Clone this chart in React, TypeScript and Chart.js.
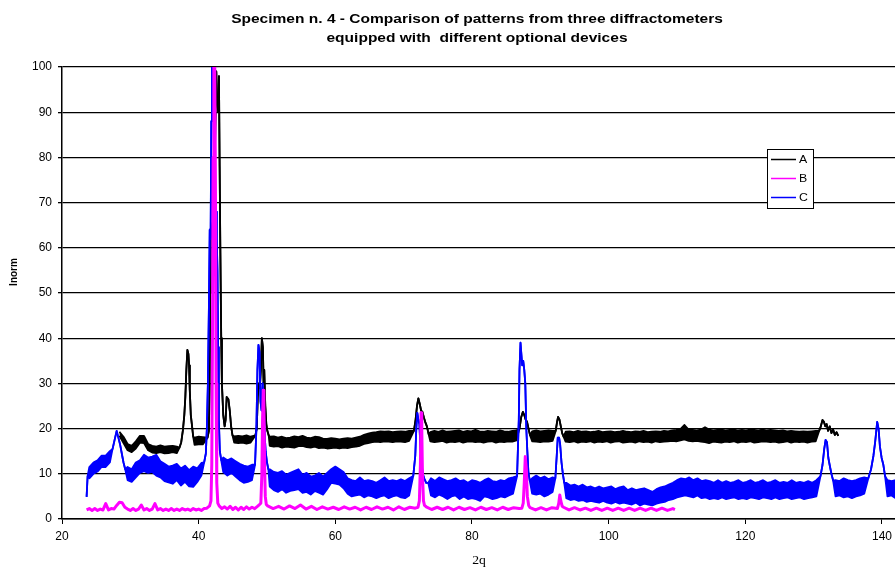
import React, { useEffect, useRef } from 'react';
import { Chart, registerables } from 'chart.js';

Chart.register(...registerables);

type P = [number, number];
type Run = [number, number, number[]]; // [start x, step, y values]

const TITLE_LINES = [
  'Specimen n. 4 - Comparison of patterns from three diffractometers',
  'equipped with  different optional devices',
];
const X_TITLE = '2q';
const Y_TITLE = 'Inorm';
const SERIES_NAMES = ['A', 'B', 'C'];
const SERIES_COLORS = ['#000000', '#FF00FF', '#0000FF'];
const X_TICKS = [20, 40, 60, 80, 100, 120, 140];
const X_MIN = 20;
const X_MAX = 151.71;
const Y_MIN = 0;
const Y_MAX = 100;
const Y_STEP = 10;

// ================= Series A (black) =================
// noisy background: upper (U) and lower (L) edges of the noise band
const A_U_1: Run = [28.4, 0.6, [19.3, 18.2, 16.6, 16.2, 17.2, 18.4, 18.4, 16.6, 16.2, 16, 16.3, 16, 16.1, 16.2, 16]];
const A_L_1: Run = [28.4, 0.6, [18.4, 16.8, 15.2, 14.8, 15.6, 16.9, 16.8, 15.2, 14.7, 14.6, 14.8, 14.5, 14.6, 14.8, 14.6]];
const A_U_2: Run = [39.4, 0.6, [18, 18.2, 18.1]];
const A_L_2: Run = [39.4, 0.6, [16.4, 16.5, 16.5]];
const A_U_3: Run = [45.2, 0.6, [18.3, 18.4, 18.3, 18.5, 18.2]];
const A_L_3: Run = [45.2, 0.6, [16.9, 16.8, 16.9, 16.7, 16.9]];
const A_U_4: Run = [50.4, 0.6, [18.2, 18.3, 18, 18.2, 17.9, 18, 18.3, 18.1, 18.4, 18, 17.9, 18.2, 18.1, 17.8, 17.7, 17.9, 17.8, 17.6, 17.8, 17.9, 17.8, 18, 18.2, 18.6, 18.9, 19.1, 19.2, 19.4, 19.3, 19.4, 19.2, 19.3, 19.4, 19.3, 19.5]];
const A_L_4: Run = [50.4, 0.6, [16.2, 16.0, 16.1, 15.8, 16.0, 15.9, 15.8, 16.1, 16.2, 15.9, 15.8, 16.0, 15.7, 15.8, 15.6, 15.7, 15.8, 15.6, 15.8, 15.7, 15.9, 16.0, 16.2, 16.6, 16.8, 17.0, 17.1, 17.0, 17.2, 17.1, 17.0, 17.2, 17.1, 17.0, 17.3]];
const A_U_5: Run = [73.9, 0.6, [19.2, 19.5, 19.3, 19.6, 19.3, 19.4, 19.5, 19.6, 19.3, 19.5, 19.4, 19.7, 19.4, 19.3, 19.5, 19.4, 19.3, 19.6, 19.4, 19.3, 19.5, 19.6]];
const A_L_5: Run = [73.9, 0.6, [17.2, 17.0, 17.1, 17.3, 16.9, 17.1, 17.0, 17.2, 16.9, 17.1, 17.2, 17.0, 17.1, 16.9, 17.1, 17.2, 16.9, 17.1, 17.0, 17.2, 17.1, 17.4]];
const A_U_6: Run = [88.8, 0.6, [19.4, 19.6, 19.4, 19.5, 19.6, 19.5]];
const A_L_6: Run = [88.8, 0.6, [17.2, 17.1, 17.0, 17.2, 17.1, 17.3]];
const A_U_7: Run = [93.7, 0.6, [19.3, 19.4, 19.2, 19.5, 19.3, 19.4, 19.2, 19.3, 19.5, 19.2, 19.3, 19.4, 19.2, 19.3, 19.5, 19.3, 19.2, 19.4, 19.3, 19.5, 19.2, 19.3, 19.4, 19.3, 19.5, 19.4, 19.6, 19.7, 19.9, 20.8, 19.8, 19.7, 19.6, 19.8, 20.3, 19.8, 19.6, 19.7, 19.8, 19.6, 19.7, 19.8, 19.6, 19.7, 19.6, 19.8, 19.7, 19.6, 19.8, 19.6, 19.7, 19.6, 19.5, 19.6, 19.4, 19.5, 19.4, 19.3, 19.4, 19.3, 19.4, 19.5]];
const A_L_7: Run = [93.7, 0.6, [17.1, 17.0, 17.2, 16.9, 17.1, 17.0, 17.2, 16.9, 17.1, 17.0, 17.2, 16.9, 17.1, 17.2, 16.9, 17.0, 17.1, 16.9, 17.2, 17.0, 17.1, 16.9, 17.2, 17.0, 17.1, 17.2, 17.3, 17.2, 17.4, 17.6, 17.3, 17.2, 17.3, 17.1, 17.0, 16.8, 17.1, 17.0, 16.9, 17.1, 17.0, 17.2, 16.9, 17.1, 17.0, 17.2, 16.9, 17.0, 17.2, 17.1, 17.0, 17.1, 16.9, 17.0, 17.2, 16.9, 17.1, 17.0, 17.1, 16.9, 17.1, 17.2]];
// peaks (shared by both edges)
const A_PEAK_1: P[] = [[37.2, 15.8], [37.45, 17], [37.7, 19.7], [37.9, 23], [38.05, 27], [38.2, 33], [38.35, 37.4], [38.5, 36.5], [38.6, 34], [38.7, 28.5], [38.85, 23], [39.0, 21], [39.2, 18.2]];
const A_PEAK_2: P[] = [[41.3, 18], [41.5, 19.5], [41.6, 30], [41.68, 50], [41.75, 62], [41.9, 64], [42.1, 66], [42.3, 72], [42.45, 88], [42.58, 99], [42.7, 93], [42.85, 90], [42.97, 98], [43.07, 78], [43.17, 60], [43.3, 40], [43.4, 30], [43.6, 23], [43.8, 20.5], [43.95, 22], [44.1, 27], [44.35, 26.5], [44.55, 24], [44.75, 20.5], [44.95, 18.5]];
const A_PEAK_3: P[] = [[48.3, 18.5], [48.5, 20], [48.65, 27], [48.8, 30], [48.95, 29], [49.1, 33], [49.25, 40], [49.4, 38], [49.5, 30], [49.6, 33], [49.75, 25], [49.9, 21], [50.05, 19.5], [50.25, 18.5]];
const A_PEAK_4: P[] = [[71.5, 19.5], [71.75, 22], [71.95, 25], [72.15, 26.7], [72.35, 25.5], [72.55, 24], [72.75, 23.7], [72.95, 22.5], [73.15, 21.5], [73.4, 20.5], [73.65, 18.8]];
const A_PEAK_5: P[] = [[86.95, 20], [87.2, 22.5], [87.45, 23.7], [87.65, 23], [87.85, 22], [88.05, 21.5], [88.3, 19.8], [88.5, 18.5]];
const A_PEAK_6: P[] = [[92.25, 19.5], [92.45, 21.5], [92.6, 22.6], [92.8, 22], [93.0, 20.5], [93.2, 19], [93.4, 18.2]];
const A_PEAK_7: P[] = [[130.8, 19.5], [131.05, 20.5], [131.3, 21.9], [131.5, 21.5], [131.7, 20.5], [131.9, 21], [132.1, 19.5], [132.35, 20.5], [132.6, 19], [132.85, 19.8], [133.1, 18.6], [133.35, 19.2], [133.6, 18.4]];

// ================= Series B (magenta) =================
const B_BASE_1: Run = [23.6, 0.4, [2.0, 2.3, 1.9, 2.3, 1.9, 2.2, 2.0, 3.4, 2.0, 2.3, 2.2, 3.0, 3.7, 3.6, 2.6, 2.2, 1.9, 2.3, 1.9, 2.2, 3.1, 2.0, 2.3, 1.9, 2.2, 3.4, 2.0, 2.3, 1.9, 2.2, 1.9, 2.3, 1.9, 2.2, 1.9, 2.3, 2.0, 2.2, 1.9, 2.3, 2.0, 2.2, 1.9, 2.3, 2.4, 2.9]];
const B_BASE_2: Run = [43.0, 0.4, [2.9, 2.3, 2.7, 2.2, 2.8, 2.1, 2.6, 2.0, 2.6, 2.1, 2.7, 2.2, 2.6, 2.3, 2.8]];
const B_BASE_3: Run = [50.1, 0.8, [2.9, 2.3, 2.8, 2.2, 2.9, 2.3, 3.1, 2.2, 2.8, 2.1, 2.7, 2.2, 2.6, 2.1, 2.7, 2.2, 2.6, 2.0, 2.6, 2.1, 2.7, 2.2, 2.6, 2.0, 2.7, 2.1, 2.6, 2.4]];
const B_BASE_4: Run = [73.3, 0.8, [2.7, 2.1, 2.6, 2.1, 2.6, 2.0, 2.6, 2.1, 2.5, 2.0, 2.6, 2.1, 2.5, 2.0, 2.6, 2.1, 2.5, 2.3]];
const B_BASE_5: Run = [88.5, 0.8, [2.5, 2.0, 2.5, 2.0, 2.5, 2.3]];
const B_BASE_6: Run = [93.4, 0.8, [2.6, 2.0, 2.5, 2.0, 2.4, 1.9, 2.4, 1.9, 2.4, 1.9, 2.4, 1.9, 2.4, 1.9, 2.4, 1.9, 2.4, 1.9, 2.4, 1.9, 2.3]];
const B_PEAK_1: P[] = [[41.8, 4], [41.92, 12], [42.02, 40], [42.12, 80], [42.22, 101], [42.35, 101], [42.45, 75], [42.55, 30], [42.65, 8], [42.8, 3.5]];
const B_PEAK_2: P[] = [[48.9, 3.2], [49.1, 3.5], [49.25, 10], [49.35, 22], [49.45, 28.5], [49.55, 25], [49.65, 12], [49.75, 5], [49.9, 3.2]];
const B_PEAK_3: P[] = [[72.1, 2.6], [72.3, 4], [72.45, 12], [72.55, 23.5], [72.65, 20], [72.75, 10], [72.9, 4], [73.05, 3]];
const B_PEAK_4: P[] = [[87.3, 2.4], [87.5, 3.5], [87.65, 8], [87.8, 13.8], [87.95, 11], [88.1, 5], [88.3, 3]];
const B_PEAK_5: P[] = [[92.7, 3.5], [92.85, 5.3], [93.0, 4], [93.2, 2.8]];
const B_PEAK_6: P[] = [[109.7, 2.1]];

// ================= Series C (blue) =================
const C_U_1: Run = [24.0, 0.6, [11.5, 12.5, 13, 14, 14, 15]];
const C_L_1: Run = [24.0, 0.6, [9, 10, 10.5, 11.5, 11.5, 12.5]];
const C_U_2: Run = [29.6, 0.6, [11.5, 11, 12.5, 13, 14.2, 13.6, 13.8, 14.2, 12.8, 12.2, 11.6, 11.8, 12.2, 11.2, 11.8, 10.8, 11.6, 11.2, 12.4]];
const C_L_2: Run = [29.6, 0.6, [8.6, 8.2, 9.2, 10.2, 10.6, 10.2, 10.4, 9.6, 9.2, 8.4, 8.1, 7.8, 8.6, 7.4, 8.2, 7.2, 7.1, 8.2, 9.6]];
const C_U_3: Run = [43.6, 0.6, [13.6, 13.0, 13.4, 12.8, 12.2, 11.8, 11.6, 12.0]];
const C_L_3: Run = [43.6, 0.6, [10.4, 9.6, 10.2, 9.4, 8.6, 8.0, 8.2, 8.6]];
const C_U_4: Run = [50.4, 0.6, [11, 10.4, 10.2, 10.6, 9.8, 10.2, 10.6, 11, 9.8, 10.2, 9.4, 9.6, 10.2, 9.4, 10.2, 11, 11.6, 11, 10.4, 9, 8.6, 8.4, 9.2, 8.4, 8.6, 8.4, 8, 8.6, 9.2, 8.4, 8.6, 8.4, 8.8, 8.4, 9]];
const C_L_4: Run = [50.4, 0.6, [7.2, 6.4, 6, 6.6, 5.8, 6.2, 6.4, 6.6, 5.8, 6, 5.4, 6.2, 5.8, 5.4, 6.6, 8, 7.8, 7.6, 6.8, 5.6, 5, 5.2, 5.4, 4.8, 5.2, 5, 4.6, 5, 5.2, 4.6, 5, 5.2, 4.8, 4.6, 5.2]];
const C_U_5: Run = [74.0, 0.6, [9, 8.4, 9.2, 8.8, 8.4, 8.6, 9, 8.4, 8.6, 8, 8.6, 8.4, 8, 8.6, 9, 8.4, 8.2, 8.6, 8.4, 9, 9.2]];
const C_L_5: Run = [74.0, 0.6, [5.2, 4.8, 5.4, 5, 4.4, 5, 5.2, 4.4, 5, 4.4, 4.6, 4.4, 4, 5, 4.8, 4.4, 4.6, 5, 4.8, 5.2, 5.6]];
const C_U_6: Run = [88.8, 0.6, [9, 9.6, 9, 9.4, 8.8, 9.2]];
const C_L_6: Run = [88.8, 0.6, [5.6, 5.4, 5.6, 5, 5.4, 6]];
const C_U_7: Run = [93.8, 0.6, [8, 7.4, 7.6, 7.2, 7.6, 7, 7.2, 6.8, 7.2, 6.8, 7, 7.2, 6.6, 7, 7.2, 6.4, 6.8, 6.4, 6.6, 6.8, 6.4, 6, 6.6, 7, 7.2, 7.6, 8, 8.6, 9, 8.8, 9.2, 8.6, 9, 8.4, 8.6, 8.4, 8, 8.6, 8, 8.4, 8, 8.2, 8.6, 8, 8.2, 8.6, 8, 8.2, 8.6, 8, 8.2, 8.6, 8, 8.2, 8, 8.6, 8, 8.2, 8, 8.4, 8, 8.6]];
const C_L_7: Run = [93.8, 0.6, [4.6, 4.2, 4.4, 4, 4.2, 3.8, 4, 3.8, 3.6, 4, 3.6, 3.4, 3.8, 3.4, 3.6, 3.4, 3.2, 3.6, 3, 3.4, 3.2, 3, 3.4, 3.6, 3.8, 4.2, 4.4, 4.8, 5, 5.2, 5, 4.8, 5.2, 4.6, 4.8, 4.4, 4.6, 4.4, 4.8, 4.4, 4.6, 4.8, 4.4, 4.6, 4.4, 4.8, 4.6, 4.4, 4.8, 4.6, 4.4, 4.8, 4.4, 4.6, 4.8, 4.4, 4.6, 4.8, 4.4, 4.6, 4.8, 5]];
const C_U_8: Run = [133.2, 0.6, [8.6, 8.4, 9, 8.6, 8.4, 8.6, 9, 9.2]];
const C_L_8: Run = [133.2, 0.6, [5, 5.2, 4.8, 5, 4.6, 5, 5.2, 5.6]];
const C_U_9: Run = [140.8, 0.6, [8.6, 8.4, 8.6, 8.2, 8.4]];
const C_L_9: Run = [140.8, 0.6, [5, 5.2, 4.6, 5, 5.2]];
const C_PEAK_0: P[] = [[23.6, 4.9], [23.75, 9.5]];
const C_PEAK_1: P[] = [[27.4, 15.5], [27.7, 17.5], [28.0, 19.5], [28.25, 18], [28.5, 16.5], [28.75, 14.5], [29.0, 12.5], [29.25, 11]];
const C_PEAK_2: P[] = [[40.8, 12.5], [41.05, 14.5], [41.2, 20], [41.35, 30], [41.5, 47], [41.62, 64], [41.75, 62], [41.85, 88], [41.95, 100.5], [42.1, 101], [42.2, 90], [42.27, 71], [42.35, 66], [42.45, 70], [42.55, 68], [42.65, 62], [42.75, 55], [42.85, 38], [42.95, 22], [43.1, 15], [43.3, 13]];
const C_PEAK_3: P[] = [[48.25, 12], [48.45, 20], [48.6, 33], [48.75, 38.5], [48.9, 37], [49.05, 26], [49.2, 24], [49.35, 30], [49.5, 27], [49.65, 19], [49.8, 15], [50.0, 12.5], [50.2, 11]];
const C_PEAK_4: P[] = [[71.4, 9.5], [71.7, 14], [71.85, 20], [72.0, 23.5], [72.15, 22], [72.3, 21], [72.45, 16], [72.6, 12.5], [72.8, 10], [73.0, 9], [73.3, 8], [73.6, 8]];
const C_PEAK_5: P[] = [[86.6, 9.5], [86.85, 22], [86.95, 33], [87.1, 39], [87.2, 37], [87.35, 34], [87.5, 35], [87.65, 33], [87.8, 30], [87.95, 20], [88.1, 15], [88.25, 10.5], [88.45, 8.5]];
const C_PEAK_6: P[] = [[92.2, 9], [92.4, 14], [92.55, 18], [92.75, 18], [92.9, 16.5], [93.1, 12.5], [93.3, 10], [93.5, 8]];
const C_PEAK_7: P[] = [[131.0, 9.5], [131.3, 12], [131.55, 15.5], [131.75, 17.5], [131.95, 17], [132.15, 13.5], [132.4, 11.5], [132.6, 10], [132.85, 8.5]];
const C_PEAK_8: P[] = [[138.0, 9], [138.4, 11], [138.75, 14], [139.0, 17], [139.3, 21.5], [139.5, 20], [139.7, 16], [139.95, 13.5], [140.2, 12], [140.45, 9.5]];

function build(runs: Run[], peaks: P[][]) {
  const pts: { x: number; y: number }[] = [];
  runs.forEach(([x0, step, ys]) => {
    ys.forEach((y, i) => pts.push({ x: Math.round((x0 + i * step) * 100) / 100, y }));
  });
  peaks.forEach((pk) => pk.forEach(([x, y]) => pts.push({ x, y })));
  pts.sort((a, b) => a.x - b.x);
  return pts;
}

const A_PEAKS = [A_PEAK_1, A_PEAK_2, A_PEAK_3, A_PEAK_4, A_PEAK_5, A_PEAK_6, A_PEAK_7];
const C_PEAKS = [C_PEAK_0, C_PEAK_1, C_PEAK_2, C_PEAK_3, C_PEAK_4, C_PEAK_5, C_PEAK_6, C_PEAK_7, C_PEAK_8];

const SERIES_A_UPPER = build([A_U_1, A_U_2, A_U_3, A_U_4, A_U_5, A_U_6, A_U_7], A_PEAKS);
const SERIES_A_LOWER = build([A_L_1, A_L_2, A_L_3, A_L_4, A_L_5, A_L_6, A_L_7], A_PEAKS);
const SERIES_B = build(
  [B_BASE_1, B_BASE_2, B_BASE_3, B_BASE_4, B_BASE_5, B_BASE_6],
  [B_PEAK_1, B_PEAK_2, B_PEAK_3, B_PEAK_4, B_PEAK_5, B_PEAK_6]
);
const SERIES_C_UPPER = build([C_U_1, C_U_2, C_U_3, C_U_4, C_U_5, C_U_6, C_U_7, C_U_8, C_U_9], C_PEAKS);
const SERIES_C_LOWER = build([C_L_1, C_L_2, C_L_3, C_L_4, C_L_5, C_L_6, C_L_7, C_L_8, C_L_9], C_PEAKS);

const FONT = '"Liberation Sans", Arial, sans-serif';

const textPlugin = {
  id: 'textsAndLegend',
  afterDraw(chart: any) {
    const ctx: CanvasRenderingContext2D = chart.ctx;
    ctx.save();
    ctx.fillStyle = '#000';
    ctx.textBaseline = 'middle';
    ctx.textAlign = 'center';
    ctx.font = `bold 13.5px ${FONT}`;
    [19, 38].forEach((yy, i) => {
      ctx.save();
      ctx.translate(477, yy);
      ctx.scale(1.15, 1);
      ctx.fillText(TITLE_LINES[i], 0, 0);
      ctx.restore();
    });
    ctx.font = '12px "Liberation Serif", "Times New Roman", serif';
    ctx.save();
    ctx.translate(479, 561);
    ctx.scale(1.14, 1);
    ctx.fillText(X_TITLE, 0, 0);
    ctx.restore();
    ctx.save();
    ctx.translate(14, 272);
    ctx.rotate(-Math.PI / 2);
    ctx.font = `bold 10px ${FONT}`;
    ctx.fillText(Y_TITLE, 0, 0);
    ctx.restore();
    const bx = 767.5, by = 149.5, bw = 46, bh = 59;
    ctx.fillStyle = '#fff';
    ctx.fillRect(bx, by, bw, bh);
    ctx.strokeStyle = '#000';
    ctx.lineWidth = 1;
    ctx.strokeRect(bx, by, bw, bh);
    const rows = [159.5, 178.5, 197.5];
    SERIES_NAMES.forEach((name, i) => {
      ctx.strokeStyle = SERIES_COLORS[i];
      ctx.lineWidth = 1.5;
      ctx.beginPath();
      ctx.moveTo(771, rows[i]);
      ctx.lineTo(796, rows[i]);
      ctx.stroke();
      ctx.fillStyle = '#000';
      ctx.textAlign = 'left';
      ctx.font = `11px ${FONT}`;
      ctx.save();
      ctx.translate(799, rows[i]);
      ctx.scale(1.12, 1);
      ctx.fillText(name, 0, 0);
      ctx.restore();
    });
    ctx.restore();
  },
};

export default function App() {
  const ref = useRef<HTMLCanvasElement>(null);
  useEffect(() => {
    document.body.style.margin = '0';
    const canvas = ref.current!;
    const line = { pointRadius: 0, tension: 0, borderJoinStyle: 'round' };
    const chart = new Chart(canvas, {
      type: 'line',
      data: {
        datasets: [
          { ...line, label: SERIES_NAMES[0], data: SERIES_A_UPPER, borderColor: SERIES_COLORS[0], borderWidth: 1.8, fill: false, order: 3 },
          { ...line, label: SERIES_NAMES[0] + ' ', data: SERIES_A_LOWER, borderColor: SERIES_COLORS[0], backgroundColor: SERIES_COLORS[0], borderWidth: 1.8, fill: 0, order: 3 },
          { ...line, label: SERIES_NAMES[1], data: SERIES_B, borderColor: SERIES_COLORS[1], borderWidth: 3, fill: false, order: 1 },
          { ...line, label: SERIES_NAMES[2], data: SERIES_C_UPPER, borderColor: SERIES_COLORS[2], borderWidth: 1.8, fill: false, order: 2 },
          { ...line, label: SERIES_NAMES[2] + ' ', data: SERIES_C_LOWER, borderColor: SERIES_COLORS[2], backgroundColor: SERIES_COLORS[2], borderWidth: 1.8, fill: 3, order: 2 },
        ],
      },
      options: {
        responsive: false,
        animation: false,
        parsing: false as any,
        normalized: true,
        layout: { padding: { top: 67, left: 0, right: 0, bottom: 0 } },
        plugins: {
          legend: { display: false },
          title: { display: false },
          tooltip: { enabled: false },
          filler: { propagate: false },
        },
        scales: {
          x: {
            type: 'linear',
            min: X_MIN,
            max: X_MAX,
            afterBuildTicks: (s: any) => {
              s.ticks = X_TICKS.map((v) => ({ value: v }));
            },
            afterFit: (s: any) => {
              s.height = 51;
            },
            ticks: {
              color: '#000',
              font: { family: FONT, size: 12 },
              padding: 5,
              maxRotation: 0,
              autoSkip: false,
            },
            grid: { drawOnChartArea: false, drawTicks: true, tickLength: 5, color: '#000', lineWidth: 1 },
            border: { display: true, color: '#000', width: 1.5 },
          },
          y: {
            type: 'linear',
            min: Y_MIN,
            max: Y_MAX,
            afterFit: (s: any) => {
              s.width = 62;
            },
            ticks: {
              stepSize: Y_STEP,
              color: '#000',
              font: { family: FONT, size: 12 },
              padding: 6,
            },
            grid: { drawOnChartArea: true, drawTicks: true, tickLength: 4, color: '#000', lineWidth: 1.3 },
            border: { display: true, color: '#000', width: 1.5 },
          },
        },
      },
      plugins: [textPlugin],
    } as any);
    return () => chart.destroy();
  }, []);
  return (
    <div style={{ width: 895, height: 570, overflow: 'hidden', position: 'relative', background: '#fff' }}>
      <canvas ref={ref} width={962} height={570} style={{ display: 'block', width: 962, height: 570 }} />
    </div>
  );
}
